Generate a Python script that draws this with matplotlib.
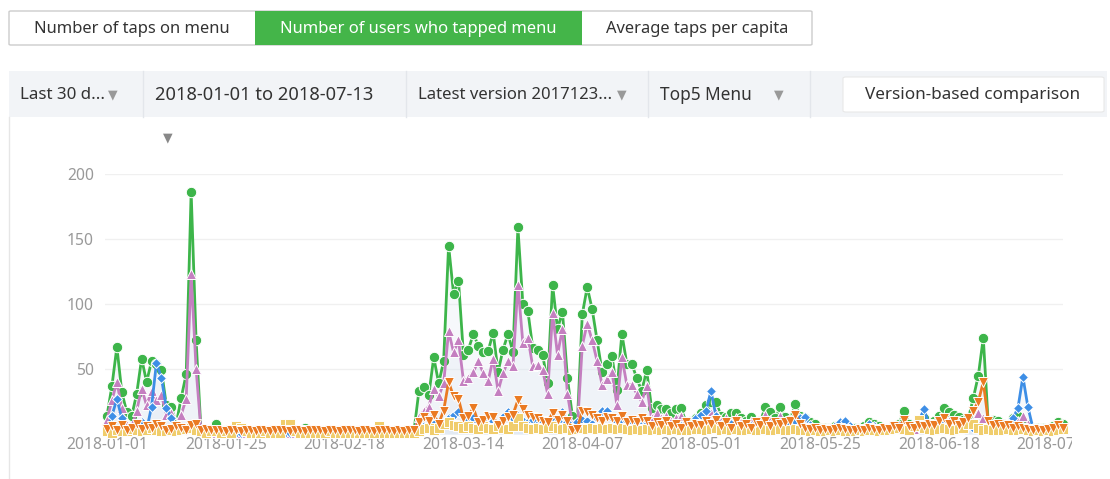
import matplotlib
matplotlib.use("Agg")
import matplotlib.pyplot as plt
import pandas as pd
from matplotlib.patches import Rectangle, FancyBboxPatch
from matplotlib.transforms import Bbox, TransformedBbox

# ---- data (one value per day 2018-01-01 .. 2018-07-13) ----
start_date = "2018-01-01"
tabs = ["Number of taps on menu", "Number of users who tapped menu", "Average taps per capita"]
filters = ["Last 30 d...", "2018-01-01 to 2018-07-13", "Latest version 2017123...", "Top5 Menu"]
compare_label = "Version-based comparison"
y_ticks = [50, 100, 150, 200]

green = [
    14, 37, 67, 32, 17, 14, 31, 58, 40, 56, 54, 49, 22, 21, 8, 28, 46, 186, 72, 2, 1, 1, 8, 2, 1, 1, 1, 2, 1, 1, 1,
    1, 1, 1, 1, 1, 2, 2, 1, 1, 5, 1, 1, 1, 1, 1, 1, 1, 1, 1, 1, 3, 1, 1, 1, 1, 1, 1, 1,
    1, 1, 1, 2, 33, 36, 30, 59, 39, 56, 145, 108, 118, 61, 65, 77, 68, 63, 64, 78, 48, 65, 77, 63, 159, 100, 95, 66, 65, 61, 39,
    115, 81, 94, 43, 14, 8, 92, 113, 96, 72, 48, 54, 60, 34, 77, 54, 54, 43, 33, 49, 20, 22, 19, 19, 16, 19, 20, 8, 10, 12,
    16, 22, 25, 25, 14, 13, 16, 16, 12, 10, 13, 9, 10, 21, 17, 12, 21, 13, 11, 23, 14, 12, 9, 8, 5, 5, 5, 6, 7, 6, 5,
    5, 5, 6, 9, 8, 6, 5, 5, 6, 8, 18, 8, 7, 9, 12, 8, 10, 14, 20, 17, 15, 13, 11, 12, 28, 45, 74, 8, 11, 10,
    8, 6, 12, 14, 10, 8, 5, 5, 5, 4, 6, 9, 8,
]
purple = [
    11, 26, 40, 20, 7, 5, 18, 35, 22, 33, 26, 30, 15, 16, 5, 15, 27, 123, 50, 2, 1, 1, 1, 1, 1, 1, 1, 1, 1, 1, 1,
    1, 2, 1, 1, 2, 1, 1, 1, 2, 1, 1, 1, 1, 2, 1, 1, 1, 1, 2, 1, 1, 1, 1, 1, 2, 1, 1, 1,
    1, 1, 1, 2, 13, 18, 21, 35, 29, 39, 79, 63, 72, 41, 43, 48, 56, 47, 41, 58, 33, 47, 56, 52, 115, 70, 74, 52, 53, 49, 31,
    93, 61, 81, 31, 8, 4, 68, 85, 72, 56, 38, 42, 48, 22, 59, 38, 38, 31, 25, 37, 12, 16, 12, 14, 10, 12, 14, 6, 8, 9,
    10, 12, 16, 16, 10, 12, 8, 12, 9, 7, 10, 6, 8, 15, 11, 9, 14, 9, 8, 12, 8, 7, 5, 4, 3, 3, 3, 4, 4, 3, 3,
    3, 3, 4, 5, 4, 3, 3, 4, 4, 5, 8, 5, 4, 6, 8, 5, 6, 9, 11, 10, 8, 7, 6, 8, 10, 16, 12, 5, 6, 6,
    5, 6, 8, 10, 14, 8, 4, 3, 3, 3, 4, 5, 4,
]
blue = [
    3, 14, 27, 12, 3, 2, 3, 9, 3, 21, 55, 43, 20, 12, 4, 3, 3, 3, 2, 1, 1, 1, 1, 1, 1, 1, 1, 1, 1, 1, 1,
    1, 1, 1, 1, 1, 1, 1, 1, 1, 1, 1, 1, 1, 1, 1, 1, 1, 1, 1, 1, 1, 1, 1, 1, 1, 1, 1, 1,
    1, 1, 1, 1, 4, 6, 5, 8, 6, 9, 12, 15, 17, 14, 10, 12, 9, 11, 14, 10, 8, 13, 17, 12, 14, 10, 9, 11, 8, 9, 11,
    13, 10, 17, 9, 5, 9, 11, 10, 8, 12, 18, 18, 12, 9, 11, 10, 8, 9, 7, 8, 6, 8, 7, 6, 5, 7, 6, 5, 7, 12,
    15, 18, 33, 14, 7, 6, 8, 7, 6, 5, 6, 5, 6, 8, 7, 6, 9, 7, 8, 10, 12, 13, 7, 5, 4, 4, 5, 6, 9, 10, 6,
    4, 4, 5, 8, 6, 4, 4, 5, 5, 7, 8, 6, 7, 10, 19, 8, 6, 7, 8, 7, 6, 5, 6, 6, 5, 3, 4, 6, 6, 7,
    6, 8, 12, 20, 44, 21, 5, 4, 3, 3, 4, 4, 3,
]
orange = [
    4, 6, 3, 7, 3, 5, 8, 4, 6, 5, 8, 6, 3, 4, 6, 5, 3, 7, 8, 3, 4, 3, 3, 3, 2, 3, 3, 2, 3, 3, 2,
    3, 3, 2, 3, 3, 3, 2, 3, 3, 2, 3, 3, 3, 2, 3, 3, 2, 3, 3, 3, 2, 3, 3, 2, 3, 3, 3, 2,
    3, 2, 3, 3, 9, 13, 10, 15, 8, 18, 40, 29, 27, 12, 14, 20, 9, 11, 14, 13, 7, 10, 13, 15, 26, 19, 15, 13, 12, 10, 9,
    16, 11, 15, 10, 3, 4, 18, 17, 15, 12, 10, 13, 12, 10, 14, 9, 11, 9, 12, 10, 6, 9, 7, 10, 6, 8, 5, 9, 6, 8,
    7, 10, 8, 11, 6, 9, 5, 10, 6, 8, 5, 9, 7, 10, 6, 9, 8, 9, 10, 15, 8, 5, 4, 5, 3, 4, 3, 4, 5, 4, 3,
    3, 4, 3, 5, 4, 3, 5, 4, 6, 5, 11, 6, 5, 7, 6, 8, 7, 10, 12, 8, 10, 7, 9, 12, 18, 25, 40, 10, 7, 8,
    6, 7, 5, 6, 5, 4, 3, 4, 3, 4, 5, 7, 5,
]
yellow = [
    2, 1, 3, 2, 2, 4, 3, 2, 3, 5, 3, 2, 2, 3, 2, 3, 4, 5, 3, 2, 1, 2, 2, 1, 2, 1, 6, 5, 2, 1, 1,
    1, 2, 1, 1, 1, 8, 8, 2, 1, 1, 1, 1, 1, 1, 2, 1, 1, 1, 1, 1, 1, 1, 1, 1, 6, 1, 1, 1,
    1, 1, 1, 1, 2, 4, 5, 3, 5, 8, 9, 7, 6, 5, 6, 5, 4, 6, 5, 4, 6, 5, 4, 6, 12, 6, 5, 4, 5, 4, 5,
    6, 5, 4, 5, 3, 4, 5, 4, 5, 4, 5, 4, 5, 4, 5, 4, 3, 4, 3, 4, 3, 4, 3, 4, 3, 4, 3, 3, 3, 4,
    4, 3, 4, 5, 3, 4, 3, 4, 3, 3, 4, 3, 3, 4, 3, 3, 4, 3, 3, 4, 3, 3, 2, 3, 2, 2, 3, 2, 3, 2, 2,
    2, 3, 2, 3, 3, 2, 3, 3, 4, 5, 4, 3, 6, 11, 5, 4, 3, 4, 5, 4, 3, 4, 5, 8, 8, 5, 3, 4, 3, 3,
    3, 4, 3, 3, 4, 3, 2, 3, 2, 3, 2, 3, 4,
]

dates = pd.date_range(start_date, periods=len(green), freq="D")
days = list(range(len(dates)))

W, H = 1110, 479
fig = plt.figure(figsize=(W / 100, H / 100), dpi=100)
plt.rcParams["font.family"] = ["Noto Sans", "DejaVu Sans"]


def fx(x):
    return x / W


def fy(y):
    return 1 - y / H


def box(x0, y0, x1, y1, face, edge="none", lw=1.0, round_=0.0, z=1):
    if round_:
        p = FancyBboxPatch((fx(x0), fy(y1)), fx(x1) - fx(x0), fy(y0) - fy(y1),
                           boxstyle=f"round,pad=0,rounding_size={round_ / W}",
                           transform=fig.transFigure, facecolor=face, edgecolor=edge, lw=lw, zorder=z)
    else:
        p = Rectangle((fx(x0), fy(y1)), fx(x1) - fx(x0), fy(y0) - fy(y1),
                      transform=fig.transFigure, facecolor=face, edgecolor=edge, lw=lw, zorder=z)
    fig.patches.append(p)


def label(x, y, s, color="#333333", size=12, ha="left"):
    fig.text(fx(x), fy(y), s, color=color, fontsize=size, ha=ha, va="center")


# tab bar
tab_edges = [9, 255, 582, 812]
box(9, 11, 812, 45, "white", "#cccccc", 1.0, round_=2)
box(255, 11, 582, 45, "#44b549", z=2)
for i, t in enumerate(tabs):
    cx = (tab_edges[i] + tab_edges[i + 1]) / 2
    label(cx, 29, t, color="white" if i == 1 else "#333333", size=11.9, ha="center")

# filter bar
box(9, 71, 1107, 117, "#f2f4f7")
for x in [143, 406, 648, 810]:
    fig.lines.append(plt.Line2D([fx(x), fx(x)], [fy(71), fy(117)], transform=fig.transFigure,
                                color="#e3e6eb", lw=1))
label(20, 95, filters[0], size=12.2)
label(155, 95, filters[1], size=13.2)
label(418, 95, filters[2], size=12.0)
label(660, 95, filters[3], size=12.4)
for x in [113, 622, 779]:
    label(x, 95, "\u25bc", color="#999999", size=9, ha="center")
box(843, 77, 1104, 112, "white", "#e8e8e8", 0.8, round_=3, z=2)
label(973, 95, compare_label, size=12.3, ha="center")

# chart panel
fig.lines.append(plt.Line2D([fx(9), fx(9)], [fy(117), 0], transform=fig.transFigure, color="#e6e6e6", lw=1))
label(168, 138, "\u25bc", color="#888888", size=9, ha="center")

ax = fig.add_axes([fx(105), fy(434), fx(1063) - fx(105), fy(174) - fy(434)])
ax.set_xlim(-0.4, 193.1)
ax.set_ylim(0, 200)
for s in ax.spines.values():
    s.set_visible(False)
ax.set_yticks(y_ticks)
ax.yaxis.grid(True, color="#f0f0f0", lw=1)
ax.set_axisbelow(True)
ax.set_xticks(days[::24])
ax.set_xticklabels([d.strftime("%Y-%m-%d") for d in dates[::24]])
ax.tick_params(length=0, colors="#999999", labelsize=11.3)
ax.tick_params(axis="y", pad=8)
ax.tick_params(axis="x", pad=2)

series = [
    (green, "#3db54a", "o", 7.5, 3),
    (purple, "#c47fc0", "^", 7.5, 4),
    (blue, "#3d8ee6", "D", 5.0, 5),
    (yellow, "#f0cd6c", "s", 6.5, 6),
    (orange, "#ea7a22", "v", 7.5, 7),
]
for vals, col, mk, ms, z in series:
    ax.fill_between(days, vals, 0, color="#dce7f1", alpha=0.25, lw=0, zorder=1)
for vals, col, mk, ms, z in series:
    ax.plot(days, vals, color=col, lw=2.0, marker=mk, ms=ms, mec="white", mew=0.7,
            zorder=z, clip_on=False)

# last date label is cut off by the panel edge in the reference
fig.canvas.draw()
last = ax.get_xticklabels()[-1]
last.set_clip_box(TransformedBbox(Bbox([[0, 0], [fx(1072), 1]]), fig.transFigure))
last.set_clip_on(True)

fig.savefig("out.png", dpi=100)
